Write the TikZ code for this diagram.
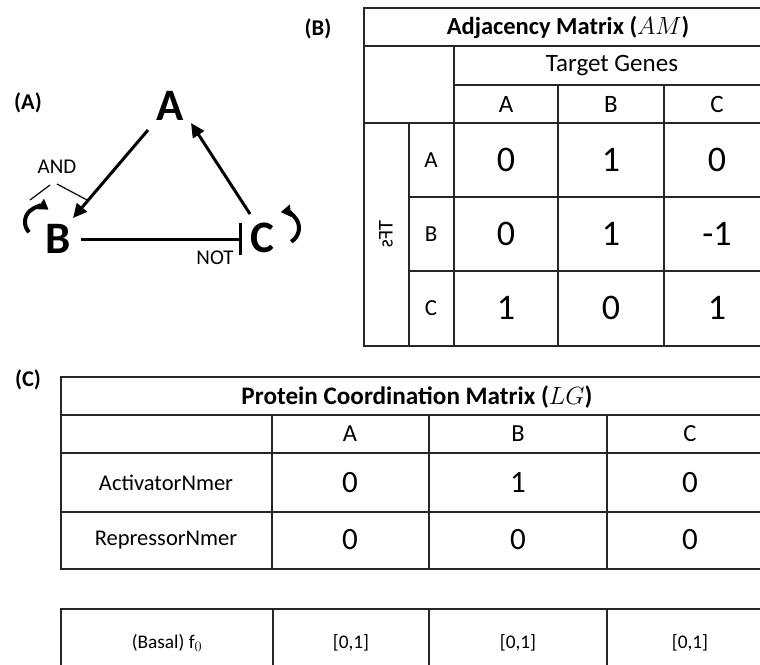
\documentclass[tikz,border=0pt]{standalone}
\usepackage{graphicx}
\usepackage{fontspec}
\setmainfont{Carlito}
\usetikzlibrary{arrows.meta,calc}
\newcommand{\fs}[1]{\fontsize{#1}{#1}\selectfont}
\begin{document}
\begin{tikzpicture}[x=1pt,y=-1pt,
  grid/.style={draw=black!85,line width=1.3pt},
  big/.style={font=\fs{45}\bfseries,inner sep=0pt},
  lab/.style={font=\fs{21},inner sep=0pt},
  panel/.style={font=\fs{22.5}\bfseries,inner sep=0pt},
  arr/.style={line width=3pt,-{Triangle[length=14pt,width=13pt]}},
  loopy/.style={line width=4pt,-{Triangle[length=10pt,width=12pt]}},
  ttl/.style={font=\fs{24.5}\bfseries,inner sep=0pt},
  ttlc/.style={font=\fs{25.2}\bfseries,inner sep=0pt},
  hdr/.style={font=\fs{25},inner sep=0pt},
  rlab/.style={font=\fs{23},inner sep=0pt},
  tfl/.style={font=\fs{21},inner sep=0pt},
  numb/.style={font=\fs{36},inner sep=0pt},
  chdr/.style={font=\fs{24.5},inner sep=0pt},
  clab/.style={font=\fs{22.5},inner sep=0pt},
  numc/.style={font=\fs{31},inner sep=0pt},
  small/.style={font=\fs{19.3},inner sep=0pt}]
\useasboundingbox (0,0) rectangle (760,664);

% ---------- panel labels
\node[panel] (pA) at (28,103) {(A)};
\node[panel] (pB) at (318,29) {(B)};
\node[panel] (pC) at (28,380) {(C)};

% ---------- graph
\node[big] (A) at (170,106) {A};
\node[big] (B) at (58,239) {B};
\node[big] (C) at (262,238) {C};
\draw[arr] ($(A.center)+(-22,24)$) -- ($(B.center)+(15,-21)$);
\draw[arr] ($(C.center)+(-12,-24)$) -- ($(A.center)+(21,17)$);
\draw[line width=3pt,-{Bar[width=32pt,line width=3.5pt]}] ($(B.center)+(23,0)$) -- ($(C.center)+(-20,1)$);
\coordinate (Bl) at ($(B.center)+(-29,-6.8)$);
\draw[loopy] (Bl) arc[start angle=137,end angle=305,radius=15];
\coordinate (Cl) at ($(C.center)+(29.2,3.7)$);
\draw[loopy] (Cl) arc[start angle=59,end angle=-98,radius=16];
\node[lab] (AND) at (57,167) {AND};
\draw[line width=1.2pt] ($(AND.center)+(-7,18)$) -- ($(AND.center)+(-27,33)$);
\draw[line width=1.2pt] ($(AND.center)+(0,17)$) -- ($(AND.center)+(30,33)$);
\node[lab] (NOT) at (215,258) {NOT};

% ---------- table B
\draw[grid] (364,8) rectangle (775,346);
\draw[grid] (364,46) -- (775,46);
\draw[grid] (454,46) -- (454,346);
\draw[grid] (454,85) -- (775,85);
\draw[grid] (364,123) -- (775,123);
\draw[grid] (409,123) -- (409,346);
\draw[grid] (558,85) -- (558,346);
\draw[grid] (664,85) -- (664,346);
\draw[grid] (409,197) -- (775,197);
\draw[grid] (409,271) -- (775,271);
\node[ttl] (tB) at (568,27) {Adjacency Matrix ($AM$)};
\node[hdr] (tg) at (612,66) {Target Genes};
\node[hdr] (hA) at (506,104) {A};
\node[hdr] (hB) at (611,104) {B};
\node[hdr] (hC) at (717,104) {C};
\node[rlab] (rA) at (431,160) {A};
\node[rlab] (rB) at (431,234) {B};
\node[rlab] (rC) at (431,308) {C};
\node[tfl] (tfs) at (386,234) {\reflectbox{\rotatebox{-90}{TFs}}};
\node[numb] at (506,160) {0};
\node[numb] at (611,160) {1};
\node[numb] at (717,160) {0};
\node[numb] at (506,234) {0};
\node[numb] at (611,234) {1};
\node[numb] at (717,234) {-1};
\node[numb] at (506,308) {1};
\node[numb] at (611,308) {0};
\node[numb] at (717,308) {1};

% ---------- table C
\draw[grid] (61,377) rectangle (785,569);
\draw[grid] (61,415) -- (785,415);
\draw[grid] (61,453) -- (785,453);
\draw[grid] (61,512) -- (785,512);
\draw[grid] (272,415) -- (272,569);
\draw[grid] (429,415) -- (429,569);
\draw[grid] (607,415) -- (607,569);
\node[ttlc] (tC) at (417,397) {Protein Coordination Matrix ($LG$)};
\node[chdr] (cA) at (350,434) {A};
\node[chdr] (cB) at (518,434) {B};
\node[chdr] (cC) at (690,434) {C};
\node[clab] (act) at (166,483) {ActivatorNmer};
\node[clab] (rep) at (166,540) {RepressorNmer};
\node[numc] at (350,483) {0};
\node[numc] at (518,483) {1};
\node[numc] at (690,483) {0};
\node[numc] at (350,540) {0};
\node[numc] at (518,540) {0};
\node[numc] at (690,540) {0};

% ---------- basal table
\draw[grid] (61,609) rectangle (785,680);
\draw[grid] (273,609) -- (273,680);
\draw[grid] (429,609) -- (429,680);
\draw[grid] (607,609) -- (607,680);
\node[small] (bas) at (167,643) {(Basal) f$_0$};
\node[small] at (351,643) {[0,1]};
\node[small] at (518,643) {[0,1]};
\node[small] at (690,643) {[0,1]};
\end{tikzpicture}
\end{document}
